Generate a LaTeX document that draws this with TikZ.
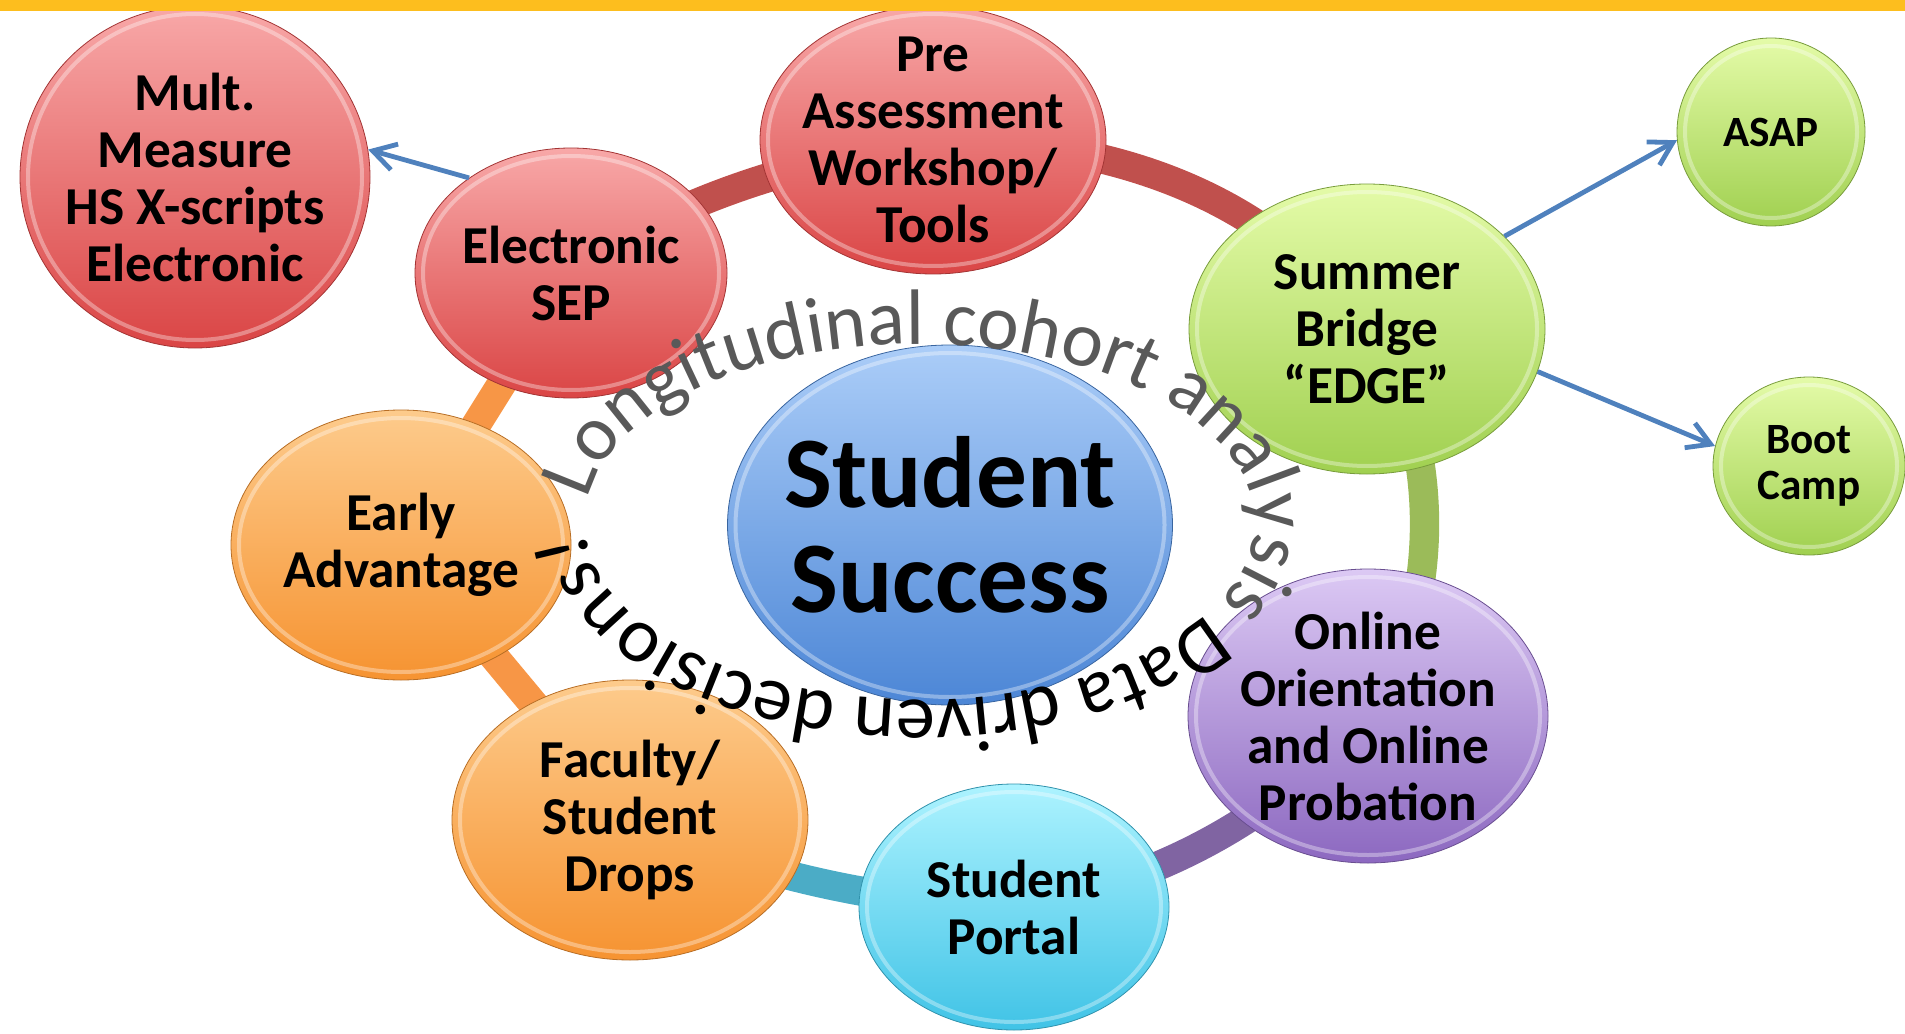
\documentclass[tikz,border=0pt]{standalone}
\usepackage{fontspec}
\setmainfont{Carlito}
\usetikzlibrary{shapes.geometric,arrows.meta,decorations.text,backgrounds,calc}

\definecolor{barYellow}{RGB}{253,190,30}
\definecolor{arrowBlue}{HTML}{4F81BD}
\definecolor{ringGray}{HTML}{595959}
% band colours
\definecolor{bandRed}{HTML}{C0504D}
\definecolor{bandGreen}{HTML}{9BBB59}
\definecolor{bandPurple}{HTML}{8064A2}
\definecolor{bandCyan}{HTML}{4BACC6}
\definecolor{bandOrange}{HTML}{F79646}
% ball colours
\definecolor{redTop}{HTML}{F8A8A8}     \definecolor{redBot}{HTML}{DA4545}
\definecolor{greenTop}{HTML}{E4FBA8}   \definecolor{greenBot}{HTML}{A0D050}
\definecolor{orangeTop}{HTML}{FDCB8C}  \definecolor{orangeBot}{HTML}{F69331}
\definecolor{purpleTop}{HTML}{DCC9F4}  \definecolor{purpleBot}{HTML}{8C68C0}
\definecolor{cyanTop}{HTML}{ADF3FF}    \definecolor{cyanBot}{HTML}{40C3E6}
\definecolor{blueTop}{HTML}{ABCDF8}    \definecolor{blueBot}{HTML}{4C86D6}

\newcommand{\ballfont}{\bfseries\fontsize{40}{42.75}\selectfont}
\newcommand{\smallballfont}{\bfseries\fontsize{32.4}{34.5}\selectfont}
\newcommand{\ringfont}{\fontsize{59}{62}\selectfont}

\tikzset{
  ball/.style 2 args={ellipse, inner sep=-45pt, align=center, font=\ballfont,
    top color=#1, bottom color=#2, draw=#2!75!black, line width=0.6pt,
    path picture={\draw[white, opacity=.35, line width=3pt]
      let \p1=($(path picture bounding box.north east)-(path picture bounding box.center)$)
      in (path picture bounding box.center) ellipse [x radius=\x1-6pt, y radius=\y1-6pt];}},
  redball/.style={ball={redTop}{redBot}},
  greenball/.style={ball={greenTop}{greenBot}},
  orangeball/.style={ball={orangeTop}{orangeBot}},
  purpleball/.style={ball={purpleTop}{purpleBot}},
  cyanball/.style={ball={cyanTop}{cyanBot}},
  blueball/.style={ball={blueTop}{blueBot}},
  band/.style={draw=#1, line width=22pt},
  arr/.style={draw=arrowBlue, line width=3.6pt, -{Straight Barb[length=17pt,width=20pt]}},
}

\begin{document}
\begin{tikzpicture}[x=0.75pt,y=0.75pt,yscale=-1,xscale=1]
\useasboundingbox (0,0) rectangle (1905,1034);

% Balls
\node[redball, minimum width=262.5pt, minimum height=256.5pt] (mult) at (195,177) {Mult.\\Measure\\HS X-scripts\\Electronic};
\node[redball, minimum width=259.5pt, minimum height=201pt] (pre) at (933,140) {Pre\\Assessment\\Workshop/\\Tools};
\node[redball, minimum width=234pt, minimum height=187.5pt] (sep) at (571,273) {Electronic\\SEP};
\node[greenball, minimum width=267pt, minimum height=217.5pt] (summer) at (1367,329) {Summer\\Bridge\\“EDGE”};
\node[greenball, minimum width=141pt, minimum height=141pt, font=\smallballfont] (asap) at (1771,132) {ASAP};
\node[greenball, minimum width=144pt, minimum height=133.5pt, font=\smallballfont] (boot) at (1809,466) {Boot\\Camp};
\node[orangeball, minimum width=255pt, minimum height=202.5pt] (early) at (401,545) {Early\\Advantage};
\node[purpleball, minimum width=270pt, minimum height=220.5pt] (online) at (1368,716) {Online\\Orientation\\and Online\\Probation};
\node[cyanball, minimum width=232.5pt, minimum height=184.5pt] (portal) at (1014,907) {Student\\Portal};
\node[orangeball, minimum width=267pt, minimum height=210pt] (faculty) at (630,820) {Faculty/\\Student\\Drops};
\node[blueball, minimum width=333.75pt, minimum height=270pt, font=\bfseries\fontsize{76}{79}\selectfont] (success) at (950,525) {Student\\Success};

% Cycle bands
\begin{scope}[on background layer]
\draw[band=bandRed] (sep.center) .. controls +(110,-80) and +(-120,20) .. (pre.center);
\draw[band=bandRed] (pre.center) .. controls +(150,0) and +(-110,-150) .. (summer.center);
\draw[band=bandGreen] (summer.center) .. controls +(76,100) and +(76,-100) .. (online.center);
\draw[band=bandPurple] (online.center) .. controls +(-96,105) and +(140,-23) .. (portal.center);
\draw[band=bandCyan] (portal.center) .. controls +(-134,-4) and +(122,54) .. (faculty.center);
\draw[band=bandOrange] (faculty.center) -- (early.center);
\draw[band=bandOrange] (early.center) -- (sep.center);
\end{scope}

% Arrows
\draw[arr] (sep.137) -- (mult.9);
\draw[arr] (summer.34) -- (asap.185);
\draw[arr] (summer.-14) -- (boot.168);

% Ring text
\begin{scope}[yscale=-1]
\path[decorate, decoration={text along path, text align={fit to path},
  text={|\ringfont\color{ringGray}|Longitudinal cohort analysis |\ringfont\color{black}|Data driven decisions!}}]
  (920,-522) ++(173:335 and 178) arc[start angle=173, end angle=-174.2, x radius=335, y radius=178];
\end{scope}

% Top bar
\fill[barYellow] (0,0) rectangle (1905,11);
\end{tikzpicture}
\end{document}
